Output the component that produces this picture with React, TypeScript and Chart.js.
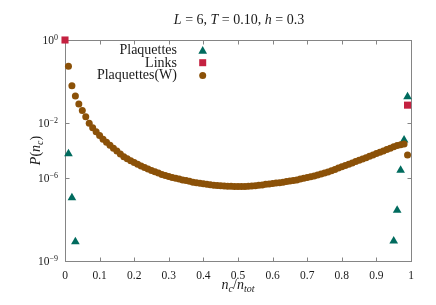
import React, { useEffect, useRef } from 'react';
import { Chart, registerables } from 'chart.js';

Chart.register(...registerables);

// ---- data (P values stored as log10 P) ----
const plaqX = [0.01, 0.02, 0.03, 0.95, 0.96, 0.97, 0.98, 0.99];
const plaqLogP = [-4.23, -6.71, -8.3, -8.28, -7.17, -5.44, -3.24, -1.37];

const linkX = [0, 0.99];
const linkLogP = [0, -1.57];

const wLogP = [
  -0.63, -1.1, -1.35, -1.54, -1.7, -1.85, -2.02, -2.35, -2.64, -2.9,
  -3.18, -3.4, -3.62, -3.83, -4.04, -4.26, -4.45, -4.6, -4.75, -4.88,
  -5.0, -5.13, -5.24, -5.35, -5.45, -5.55, -5.64, -5.74, -5.82, -5.89,
  -5.96, -6.01, -6.04, -6.07, -6.09, -6.12, -6.15, -6.17, -6.19, -6.21,
  -6.23, -6.24, -6.26, -6.27, -6.28, -6.29, -6.3, -6.3, -6.31, -6.31,
  -6.31, -6.31, -6.3, -6.29, -6.28, -6.26, -6.25, -6.23, -6.22, -6.2,
  -6.18, -6.17, -6.15, -6.13, -6.11, -6.09, -6.07, -6.04, -6.01, -5.97,
  -5.91, -5.85, -5.78, -5.71, -5.64, -5.56, -5.47, -5.38, -5.28, -5.19,
  -5.09, -5.0, -4.9, -4.8, -4.71, -4.61, -4.52, -4.42, -4.32, -4.22,
  -4.13, -4.03, -3.93, -3.83, -3.73, -3.64, -3.58, -3.53, -4.33,
];
const wX = wLogP.map((_, i) => (i + 1) / 100);

const xTicks = [0, 0.1, 0.2, 0.3, 0.4, 0.5, 0.6, 0.7, 0.8, 0.9, 1];
const xTickLabels = ['0', '0.1', '0.2', '0.3', '0.4', '0.5', '0.6', '0.7', '0.8', '0.9', '1'];

// y axis: tick decades and their axis positions (the axis is warped piecewise)
const yTickLogs = [0, -2, -6, -9];
const yTickExps = ['0', '\u22122', '\u22126', '\u22129'];
const yTickAxis = [0, -83, -138, -221];

const legendNames = ['Plaquettes', 'Links', 'Plaquettes(W)'];

const C_PLAQ = '#006b5e';
const C_LINK = '#c42140';
const C_W = '#8b5108';
const C_FRAME = '#858585';
const C_TEXT = '#1a1a1a';
const SERIF = '"Liberation Serif", "Times New Roman", serif';

function warp(v: number): number {
  for (let i = 0; i < yTickLogs.length - 1; i++) {
    const a = yTickLogs[i];
    const b = yTickLogs[i + 1];
    if (v >= b || i === yTickLogs.length - 2) {
      const t = (v - a) / (b - a);
      return yTickAxis[i] + t * (yTickAxis[i + 1] - yTickAxis[i]);
    }
  }
  return 0;
}

const pts = (xs: number[], ls: number[]) => xs.map((x, i) => ({ x, y: warp(ls[i]) }));

type Seg = { t: string; font: string; dy?: number };
function richWidth(ctx: CanvasRenderingContext2D, segs: Seg[]) {
  let w = 0;
  for (const s of segs) {
    ctx.font = s.font;
    w += ctx.measureText(s.t).width;
  }
  return w;
}
function drawRich(ctx: CanvasRenderingContext2D, segs: Seg[], x: number, y: number, align: 'left' | 'center' | 'right') {
  const w = richWidth(ctx, segs);
  let cx = align === 'left' ? x : align === 'center' ? x - w / 2 : x - w;
  ctx.textAlign = 'left';
  ctx.textBaseline = 'alphabetic';
  for (const s of segs) {
    ctx.font = s.font;
    ctx.fillText(s.t, cx, y + (s.dy || 0));
    cx += ctx.measureText(s.t).width;
  }
}

const decorPlugin = {
  id: 'decor',
  beforeDatasetsDraw(chart: any) {
    const { ctx, chartArea } = chart;
    const xs = chart.scales.x;
    const ys = chart.scales.y;
    const L = Math.round(chartArea.left) + 0.5;
    const R = Math.round(chartArea.right) + 0.5;
    const T = Math.round(chartArea.top) + 0.5;
    const B = Math.round(chartArea.bottom) + 0.5;
    ctx.save();
    ctx.strokeStyle = C_FRAME;
    ctx.lineWidth = 1;
    ctx.strokeRect(L, T, R - L, B - T);
    ctx.beginPath();
    for (const v of xTicks) {
      const px = Math.round(xs.getPixelForValue(v)) + 0.5;
      ctx.moveTo(px, B);
      ctx.lineTo(px, B - 4);
      ctx.moveTo(px, T);
      ctx.lineTo(px, T + 4);
    }
    for (const v of yTickLogs) {
      const py = Math.round(ys.getPixelForValue(warp(v))) + 0.5;
      ctx.moveTo(L, py);
      ctx.lineTo(L + 4, py);
      ctx.moveTo(R, py);
      ctx.lineTo(R - 4, py);
    }
    ctx.stroke();
    ctx.restore();
  },
  afterDraw(chart: any) {
    const { ctx, chartArea } = chart;
    const xs = chart.scales.x;
    const ys = chart.scales.y;
    ctx.save();
    ctx.fillStyle = C_TEXT;

    // x tick labels
    ctx.font = `11.5px ${SERIF}`;
    ctx.textAlign = 'center';
    ctx.textBaseline = 'alphabetic';
    xTicks.forEach((v, i) => {
      ctx.fillText(xTickLabels[i], xs.getPixelForValue(v), chartArea.bottom + 18);
    });

    // y tick labels 10^e
    yTickLogs.forEach((v, i) => {
      const py = ys.getPixelForValue(warp(v));
      drawRich(
        ctx,
        [
          { t: '10', font: `11.5px ${SERIF}`, dy: 3.5 },
          { t: yTickExps[i], font: `8px ${SERIF}`, dy: -0.5 },
        ],
        chartArea.left - 7,
        py,
        'right'
      );
    });

    // title
    const it = `italic 14px ${SERIF}`;
    const rm = `14px ${SERIF}`;
    drawRich(
      ctx,
      [
        { t: 'L', font: it },
        { t: ' = 6, ', font: rm },
        { t: 'T', font: it },
        { t: ' = 0.10, ', font: rm },
        { t: 'h', font: it },
        { t: ' = 0.3', font: rm },
      ],
      239,
      24,
      'center'
    );

    // x axis title
    const sub = `italic 10px ${SERIF}`;
    drawRich(
      ctx,
      [
        { t: 'n', font: it },
        { t: 'c', font: sub, dy: 2.5 },
        { t: '/', font: rm },
        { t: 'n', font: it },
        { t: 'tot', font: sub, dy: 2.5 },
      ],
      (chartArea.left + chartArea.right) / 2,
      chartArea.bottom + 28,
      'center'
    );

    // y axis title (rotated)
    ctx.save();
    ctx.translate(40, (chartArea.top + chartArea.bottom) / 2);
    ctx.rotate(-Math.PI / 2);
    drawRich(
      ctx,
      [
        { t: 'P', font: it },
        { t: '(', font: rm },
        { t: 'n', font: it },
        { t: 'c', font: sub, dy: 2.5 },
        { t: ')', font: rm },
      ],
      0,
      0,
      'center'
    );
    ctx.restore();

    // legend
    const baselines = [53.8, 66.5, 79.2];
    const mx = 202.7;
    ctx.font = rm;
    ctx.textAlign = 'right';
    ctx.textBaseline = 'alphabetic';
    legendNames.forEach((n, i) => {
      ctx.fillStyle = C_TEXT;
      ctx.fillText(n, 177, baselines[i]);
      const cy = baselines[i] - 3.8;
      if (i === 0) {
        ctx.fillStyle = C_PLAQ;
        const r = 5;
        ctx.beginPath();
        ctx.moveTo(mx, cy - r * 0.75 - 0.2);
        ctx.lineTo(mx + r * 0.866, cy + r * 0.75);
        ctx.lineTo(mx - r * 0.866, cy + r * 0.75);
        ctx.closePath();
        ctx.fill();
      } else if (i === 1) {
        ctx.fillStyle = C_LINK;
        ctx.fillRect(mx - 3.5, cy - 3.5, 7, 7);
      } else {
        ctx.fillStyle = C_W;
        ctx.beginPath();
        ctx.arc(mx, cy, 3.5, 0, Math.PI * 2);
        ctx.fill();
      }
    });
    ctx.restore();
  },
};

export default function App() {
  const ref = useRef<HTMLCanvasElement>(null);
  useEffect(() => {
    document.body.style.margin = '0';
    const chart = new Chart(ref.current as HTMLCanvasElement, {
      type: 'scatter',
      data: {
        datasets: [
          {
            label: 'Plaquettes',
            data: pts(plaqX, plaqLogP),
            pointStyle: 'triangle',
            pointRadius: 5,
            pointBorderWidth: 0,
            backgroundColor: C_PLAQ,
            borderColor: C_PLAQ,
            order: 3,
            clip: false,
          } as any,
          {
            label: 'Links',
            data: pts(linkX, linkLogP),
            pointStyle: 'rect',
            pointRadius: 5,
            pointBorderWidth: 0,
            backgroundColor: C_LINK,
            borderColor: C_LINK,
            order: 2,
            clip: false,
          } as any,
          {
            label: 'Plaquettes(W)',
            data: pts(wX, wLogP),
            pointStyle: 'circle',
            pointRadius: 3.5,
            pointBorderWidth: 0,
            backgroundColor: C_W,
            borderColor: C_W,
            order: 1,
            clip: false,
          } as any,
        ],
      },
      options: {
        responsive: false,
        animation: false,
        devicePixelRatio: 1,
        layout: { padding: { left: 65, right: 25, top: 40, bottom: 44 } },
        plugins: {
          legend: { display: false },
          tooltip: { enabled: false },
          title: { display: false },
        },
        events: [],
        scales: {
          x: {
            type: 'linear',
            min: 0,
            max: 1,
            display: false,
          },
          y: {
            type: 'linear',
            min: yTickAxis[yTickAxis.length - 1],
            max: 0,
            display: false,
          },
        },
      },
      plugins: [decorPlugin],
    });
    return () => chart.destroy();
  }, []);
  return (
    <div style={{ width: 436, height: 305 }}>
      <canvas ref={ref} width={436} height={305} style={{ display: 'block' }} />
    </div>
  );
}
